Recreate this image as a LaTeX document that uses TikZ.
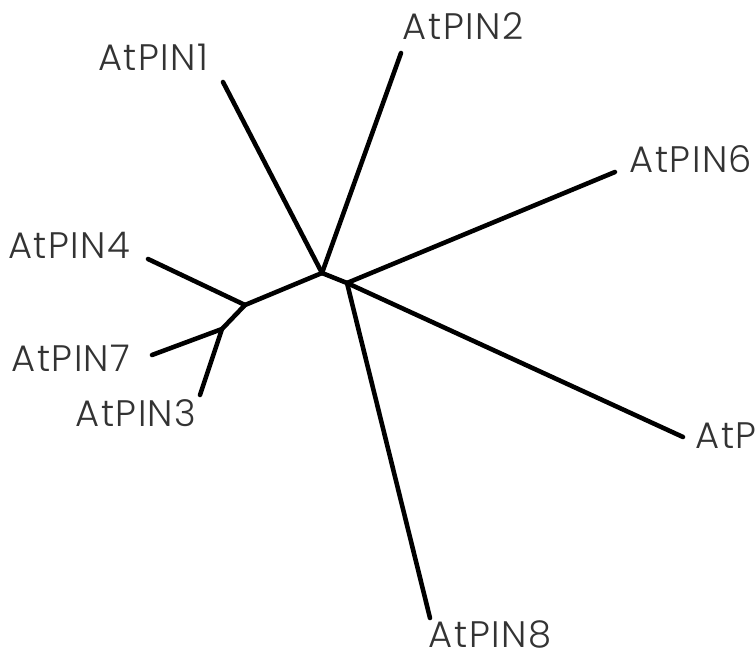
\documentclass[tikz,border=0pt]{standalone}
\usepackage{fontspec}
\setmainfont{Poppins}[UprightFont=* Light, LetterSpace=4]
\begin{document}
\begin{tikzpicture}[x=0.02cm, y=-0.02cm,
    leaf/.style={inner sep=0pt, font=\fontsize{21}{21}\selectfont, text=black!80},
    branch/.style={line width=2.6pt, line cap=round, line join=round}]
    \useasboundingbox (0,0) rectangle (755,659);
    % Internal nodes
    \coordinate (root) at (322,273);
    \coordinate (right) at (347,283);
    \coordinate (left) at (245,305);
    \coordinate (lower) at (222,329);
    % Branch tips
    \coordinate (tip1) at (223,82);
    \coordinate (tip2) at (401,53);
    \coordinate (tip6) at (615,172);
    \coordinate (tip5) at (683,437);
    \coordinate (tip8) at (430,618);
    \coordinate (tip4) at (148,259);
    \coordinate (tip7) at (152,355);
    \coordinate (tip3) at (200,395);
    % Labels
    \node (pin1) [leaf] at (153,57) {AtPIN1};
    \node (pin2) [leaf] at (463,26) {AtPIN2};
    \node (pin6) [leaf] at (691,159) {AtPIN6};
    \node (pin5) [leaf] at (726,436) {AtP};
    \node (pin8) [leaf] at (490,634) {AtPIN8};
    \node (pin4) [leaf] at (69,245) {AtPIN4};
    \node (pin7) [leaf] at (71,358) {AtPIN7};
    \node (pin3) [leaf] at (136,413) {AtPIN3};
    % Branches
    \draw[branch] (root) -- (tip1);
    \draw[branch] (root) -- (tip2);
    \draw[branch] (root) -- (right);
    \draw[branch] (root) -- (left);
    \draw[branch] (right) -- (tip6);
    \draw[branch] (right) -- (tip5);
    \draw[branch] (right) -- (tip8);
    \draw[branch] (left) -- (tip4);
    \draw[branch] (left) -- (lower);
    \draw[branch] (lower) -- (tip7);
    \draw[branch] (lower) -- (tip3);
\end{tikzpicture}
\end{document}
